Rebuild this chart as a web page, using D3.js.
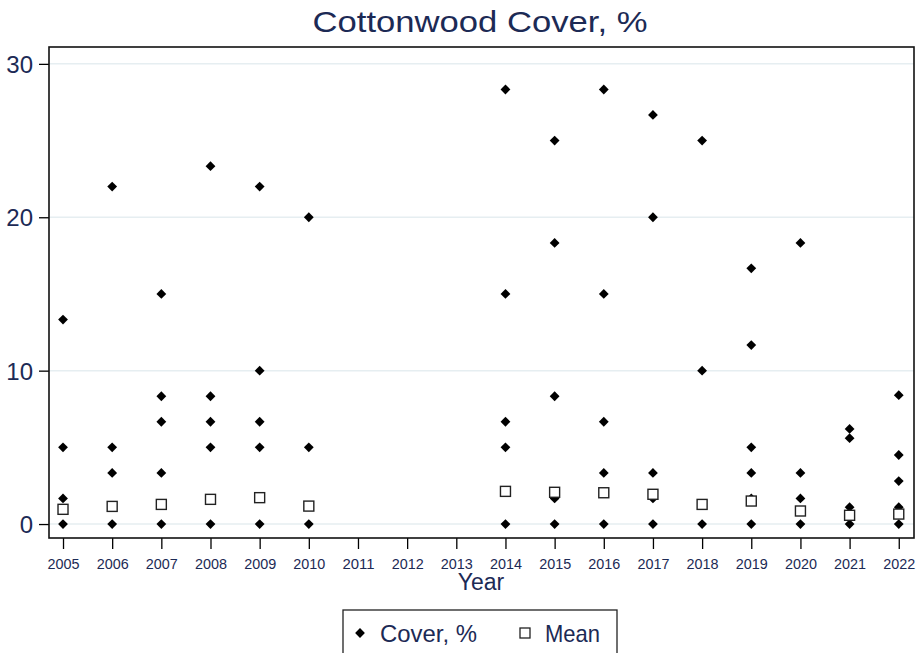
<!DOCTYPE html>
<html>
<head>
<meta charset="utf-8">
<script src="https://cdn.jsdelivr.net/npm/d3@7"></script>
<style>
  html, body { margin: 0; padding: 0; background: #fff; }
  svg { display: block; font-family: Arial, "Liberation Sans", sans-serif; }
</style>
</head>
<body>
<svg id="chart" width="922" height="653"></svg>
<script>
// Survey years shown on the axis (2011–2013 were not sampled)
const years = [2005, 2006, 2007, 2008, 2009, 2010, 2011, 2012, 2013,
               2014, 2015, 2016, 2017, 2018, 2019, 2020, 2021, 2022];

// Individual plot cover values (%) per sampled year
const coverYears = [2005, 2006, 2007, 2008, 2009, 2010, 2014, 2015, 2016,
                    2017, 2018, 2019, 2020, 2021, 2022];
const coverValues = [
  [13.33, 5, 1.67, 0],
  [22, 5, 3.33, 0],
  [15, 8.33, 6.67, 3.33, 0],
  [23.33, 8.33, 6.67, 5, 0],
  [22, 10, 6.67, 5, 0],
  [20, 5, 0],
  [28.33, 15, 6.67, 5, 0],
  [25, 18.33, 8.33, 1.67, 0],
  [28.33, 15, 6.67, 3.33, 0],
  [26.67, 20, 3.33, 1.67, 0],
  [25, 10, 0],
  [16.67, 11.67, 5, 3.33, 1.67, 0],
  [18.33, 3.33, 1.67, 0],
  [6.2, 5.6, 1.1, 0],
  [8.4, 4.5, 2.8, 1.1, 0]
];

// Mean cover per sampled year
const meanValues = [0.96, 1.15, 1.28, 1.61, 1.72, 1.17, 2.13, 2.07, 2.04,
                    1.94, 1.28, 1.5, 0.85, 0.57, 0.65];

const yTicks = [0, 10, 20, 30];

const svg = d3.select("#chart");
const ink = "#1c2a55";

const plot = { left: 49, right: 914, top: 47, bottom: 538 };

const x = d3.scaleLinear().domain([2004.715, 2022.31]).range([plot.left, plot.right]);
const y = d3.scaleLinear().domain([-0.91, 31.1]).range([plot.bottom, plot.top]);

// Horizontal grid lines
svg.append("g").selectAll("line").data(yTicks).join("line")
  .attr("x1", plot.left).attr("x2", plot.right)
  .attr("y1", d => y(d)).attr("y2", d => y(d))
  .attr("stroke", "#e6eef1").attr("stroke-width", 1.5);

// Y axis
const yAxis = svg.append("g")
  .attr("transform", `translate(${plot.left},0)`)
  .call(d3.axisLeft(y).tickValues(yTicks).tickSize(10).tickPadding(6).tickFormat(d3.format("d")));
yAxis.select(".domain").remove();
yAxis.selectAll(".tick line").attr("stroke", "#000").attr("stroke-width", 1.3);
yAxis.selectAll(".tick text")
  .attr("fill", ink).attr("font-size", 24).attr("font-family", "Arial, 'Liberation Sans', sans-serif")
  .attr("dy", "0.36em");

// X axis
const xAxis = svg.append("g")
  .attr("transform", `translate(0,${plot.bottom})`)
  .call(d3.axisBottom(x).tickValues(years).tickSize(11).tickPadding(6).tickFormat(d3.format("d")));
xAxis.select(".domain").remove();
xAxis.selectAll(".tick line").attr("stroke", "#000").attr("stroke-width", 1.3);
xAxis.selectAll(".tick text")
  .attr("fill", ink).attr("font-size", 15.5).attr("font-family", "Arial, 'Liberation Sans', sans-serif")
  .attr("y", 31).attr("dy", 0)
  .attr("textLength", 32).attr("lengthAdjust", "spacingAndGlyphs");

// Plot frame
svg.append("rect")
  .attr("x", plot.left).attr("y", plot.top)
  .attr("width", plot.right - plot.left).attr("height", plot.bottom - plot.top)
  .attr("fill", "none").attr("stroke", "#111").attr("stroke-width", 1.6);

// Cover points (diamonds)
const coverPts = coverYears.flatMap((yr, i) => coverValues[i].map(v => ({ yr, v })));
const diamond = d3.symbol().type(d3.symbolSquare).size(48);
svg.append("g").selectAll("path").data(coverPts).join("path")
  .attr("d", diamond)
  .attr("transform", d => `translate(${x(d.yr)},${y(d.v)}) rotate(45)`)
  .attr("fill", "#000");

// Mean markers (hollow squares)
const meanPts = coverYears.map((yr, i) => ({ yr, v: meanValues[i] }));
svg.append("g").selectAll("rect").data(meanPts).join("rect")
  .attr("x", d => x(d.yr) - 5).attr("y", d => y(d.v) - 5)
  .attr("width", 10).attr("height", 10)
  .attr("fill", "#fff").attr("stroke", "#222").attr("stroke-width", 1.4);

// Title
svg.append("text")
  .attr("x", 480).attr("y", 32).attr("text-anchor", "middle")
  .attr("font-size", 29).attr("fill", ink)
  .attr("textLength", 335).attr("lengthAdjust", "spacingAndGlyphs")
  .text("Cottonwood Cover, %");

// Axis title
svg.append("text")
  .attr("x", 481).attr("y", 590).attr("text-anchor", "middle")
  .attr("font-size", 23).attr("fill", ink)
  .text("Year");

// Legend
const lg = svg.append("g");
lg.append("rect").attr("x", 343).attr("y", 610).attr("width", 274).attr("height", 60)
  .attr("fill", "#fff").attr("stroke", "#222").attr("stroke-width", 1.3);
lg.append("path").attr("d", d3.symbol().type(d3.symbolSquare).size(48))
  .attr("transform", "translate(360,633) rotate(45)").attr("fill", "#000");
lg.append("text").attr("x", 380).attr("y", 642).attr("font-size", 24).attr("fill", ink)
  .attr("textLength", 97).attr("lengthAdjust", "spacingAndGlyphs").text("Cover, %");
lg.append("rect").attr("x", 520).attr("y", 628).attr("width", 10).attr("height", 10)
  .attr("fill", "#fff").attr("stroke", "#222").attr("stroke-width", 1.3);
lg.append("text").attr("x", 545).attr("y", 642).attr("font-size", 24).attr("fill", ink)
  .attr("textLength", 55).attr("lengthAdjust", "spacingAndGlyphs").text("Mean");
</script>
</body>
</html>
